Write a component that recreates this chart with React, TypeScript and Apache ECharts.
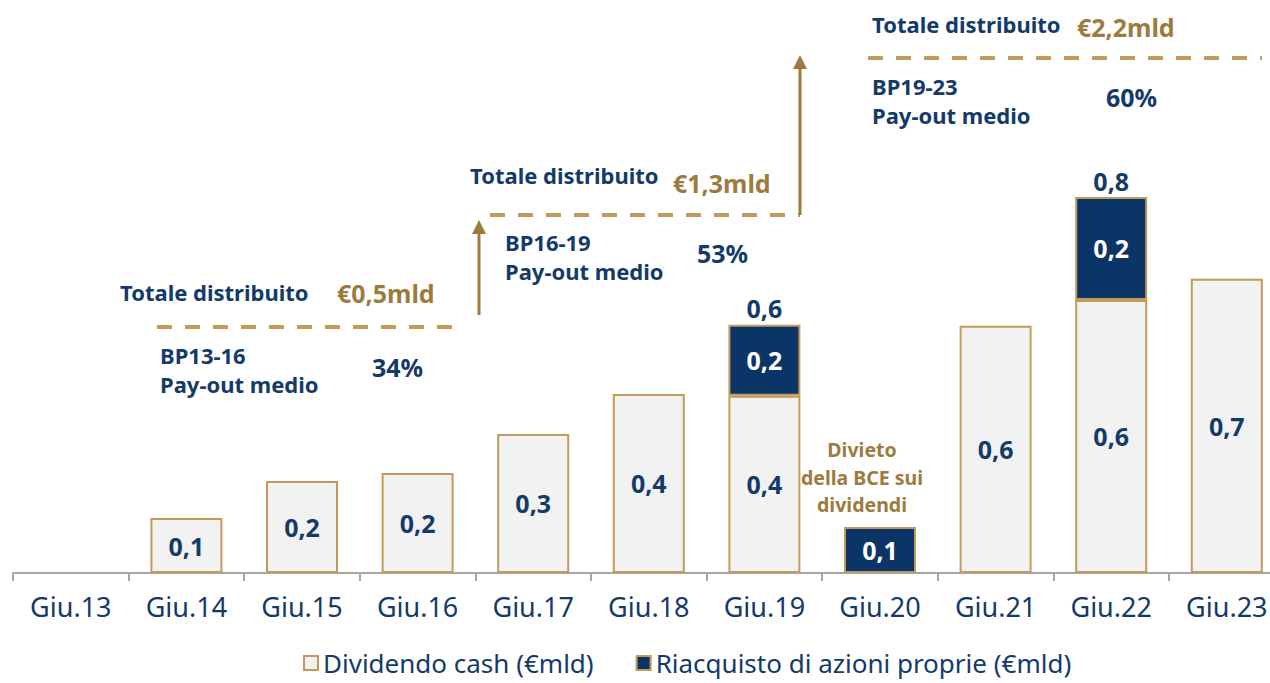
import React, { useEffect, useRef } from "react";
import * as echarts from "echarts";

const categories = ["Giu.13", "Giu.14", "Giu.15", "Giu.16", "Giu.17", "Giu.18", "Giu.19", "Giu.20", "Giu.21", "Giu.22", "Giu.23"];
const cashValues = [0, 0.117, 0.196, 0.213, 0.296, 0.381, 0.377, 0, 0.526, 0.581, 0.626];
const buybackValues = [0, 0, 0, 0, 0, 0, 0.151, 0.098, 0, 0.219, 0];
const cashLabels = ["", "0,1", "0,2", "0,2", "0,3", "0,4", "0,4", "", "0,6", "0,6", "0,7"];
const buybackLabels = ["", "", "", "", "", "", "0,2", "0,1", "", "0,2", ""];
const totalLabels = ["", "", "", "", "", "", "0,6", "", "", "0,8", ""];

const NAVY = "#0B3566";
const NAVY_TEXT = "#143A6A";
const GOLD = "#C39A5A";
const GOLD_DARK = "#9C7B3E";
const FONT = "'Noto Sans', sans-serif";

function txt(text: string, x: number, y: number, size: number, color: string, weight = "bold", align = "left", lineHeight?: number) {
  return {
    type: "text",
    x,
    y,
    silent: true,
    style: {
      text,
      fill: color,
      font: `${weight} ${size}px ${FONT}`,
      textAlign: align,
      textVerticalAlign: "middle",
      align,
      verticalAlign: "middle",
      lineHeight: lineHeight ?? size,
    },
  };
}

function dashed(x1: number, x2: number, y: number) {
  return {
    type: "line",
    silent: true,
    shape: { x1, y1: y, x2, y2: y },
    style: { stroke: GOLD, lineWidth: 4, lineDash: [15, 13] },
  };
}

function arrow(x: number, yBottom: number, yTip: number) {
  return [
    {
      type: "line",
      silent: true,
      shape: { x1: x, y1: yBottom, x2: x, y2: yTip + 12 },
      style: { stroke: GOLD_DARK, lineWidth: 3 },
    },
    {
      type: "polygon",
      silent: true,
      shape: { points: [[x - 7, yTip + 14], [x + 7, yTip + 14], [x, yTip]] },
      style: { fill: GOLD_DARK },
    },
  ];
}

export default function App() {
  const ref = useRef<HTMLDivElement>(null);
  useEffect(() => {
    if (!ref.current) return;
    const chart = echarts.init(ref.current, undefined, { renderer: "svg" });
    const nz = (v: number) => (v === 0 ? null : v);
    const totals = cashValues.map((c, i) => (totalLabels[i] ? c + buybackValues[i] : null));
    const labelBase = { fontSize: 25, fontWeight: "bold", fontFamily: FONT };
    chart.setOption({
      animation: false,
      textStyle: { fontFamily: FONT },
      grid: { left: 13, width: 1271.6, top: 103, bottom: 110, containLabel: false },
      legend: {
        data: ["Dividendo cash (€mld)", "Riacquisto di azioni proprie (€mld)"],
        left: 298,
        top: 645,
        itemWidth: 14,
        itemHeight: 14,
        itemGap: 42,
        icon: "rect",
        textStyle: { color: NAVY_TEXT, fontSize: 26, lineHeight: 26, fontFamily: FONT, padding: [0, 0, 0, 0] },
      },
      xAxis: {
        type: "category",
        data: categories,
        axisLine: { lineStyle: { color: "#A6A6A6", width: 2 } },
        axisTick: { show: true, length: 8, lineStyle: { color: "#A6A6A6", width: 2 } },
        axisLabel: { color: NAVY_TEXT, fontSize: 27, fontFamily: FONT, margin: 20 },
      },
      yAxis: { type: "value", min: 0, max: 1, show: false, splitLine: { show: false } },
      series: [
        {
          name: "Dividendo cash (€mld)",
          type: "bar",
          stack: "tot",
          barWidth: 72,
          data: cashValues.map(nz),
          itemStyle: { color: "#F2F2F2", borderColor: GOLD, borderWidth: 2 },
          label: {
            show: true,
            position: "inside",
            color: NAVY_TEXT,
            ...labelBase,
            formatter: (p: any) => cashLabels[p.dataIndex],
          },
        },
        {
          name: "Riacquisto di azioni proprie (€mld)",
          type: "bar",
          stack: "tot",
          barWidth: 72,
          data: buybackValues.map(nz),
          itemStyle: { color: NAVY, borderColor: GOLD, borderWidth: 2 },
          label: {
            show: true,
            position: "inside",
            color: "#FFFFFF",
            ...labelBase,
            formatter: (p: any) => buybackLabels[p.dataIndex],
          },
        },
        {
          name: "totale",
          type: "scatter",
          symbolSize: 0,
          data: totals,
          itemStyle: { opacity: 1 },
          label: {
            show: true,
            position: "top",
            distance: 4,
            color: NAVY_TEXT,
            ...labelBase,
            formatter: (p: any) => totalLabels[p.dataIndex],
          },
        },
      ],
      graphic: [
        txt("Totale distribuito", 120, 292, 22, NAVY_TEXT),
        txt("€0,5mld", 337, 293, 25, GOLD_DARK),
        dashed(157, 463, 327),
        txt("BP13-16\nPay-out medio", 160, 369, 22, NAVY_TEXT, "bold", "left", 29),
        txt("34%", 372, 367, 25, NAVY_TEXT),
        ...arrow(479, 315, 220),
        txt("Totale distribuito", 470, 175, 22, NAVY_TEXT),
        txt("€1,3mld", 673, 183, 25, GOLD_DARK),
        dashed(490, 800, 215),
        ...arrow(800, 215, 55),
        txt("BP16-19\nPay-out medio", 505, 256, 22, NAVY_TEXT, "bold", "left", 29),
        txt("53%", 697, 253, 25, NAVY_TEXT),
        txt("Totale distribuito", 872, 24, 22, NAVY_TEXT),
        txt("€2,2mld", 1077, 27, 25, GOLD_DARK),
        dashed(868, 1262, 58),
        txt("BP19-23\nPay-out medio", 872, 100, 22, NAVY_TEXT, "bold", "left", 29),
        txt("60%", 1106, 97, 25, NAVY_TEXT),
        txt("Divieto\ndella BCE sui\ndividendi", 862, 477, 19.5, GOLD_DARK, "bold", "center", 27.5),
      ],
    });
    return () => chart.dispose();
  }, []);
  return (
    <div style={{ position: "absolute", left: 0, top: 0, width: 1270, height: 683, overflow: "hidden" }}>
      <div ref={ref} style={{ position: "absolute", left: 0, top: 0, width: 1300, height: 683 }} />
    </div>
  );
}
